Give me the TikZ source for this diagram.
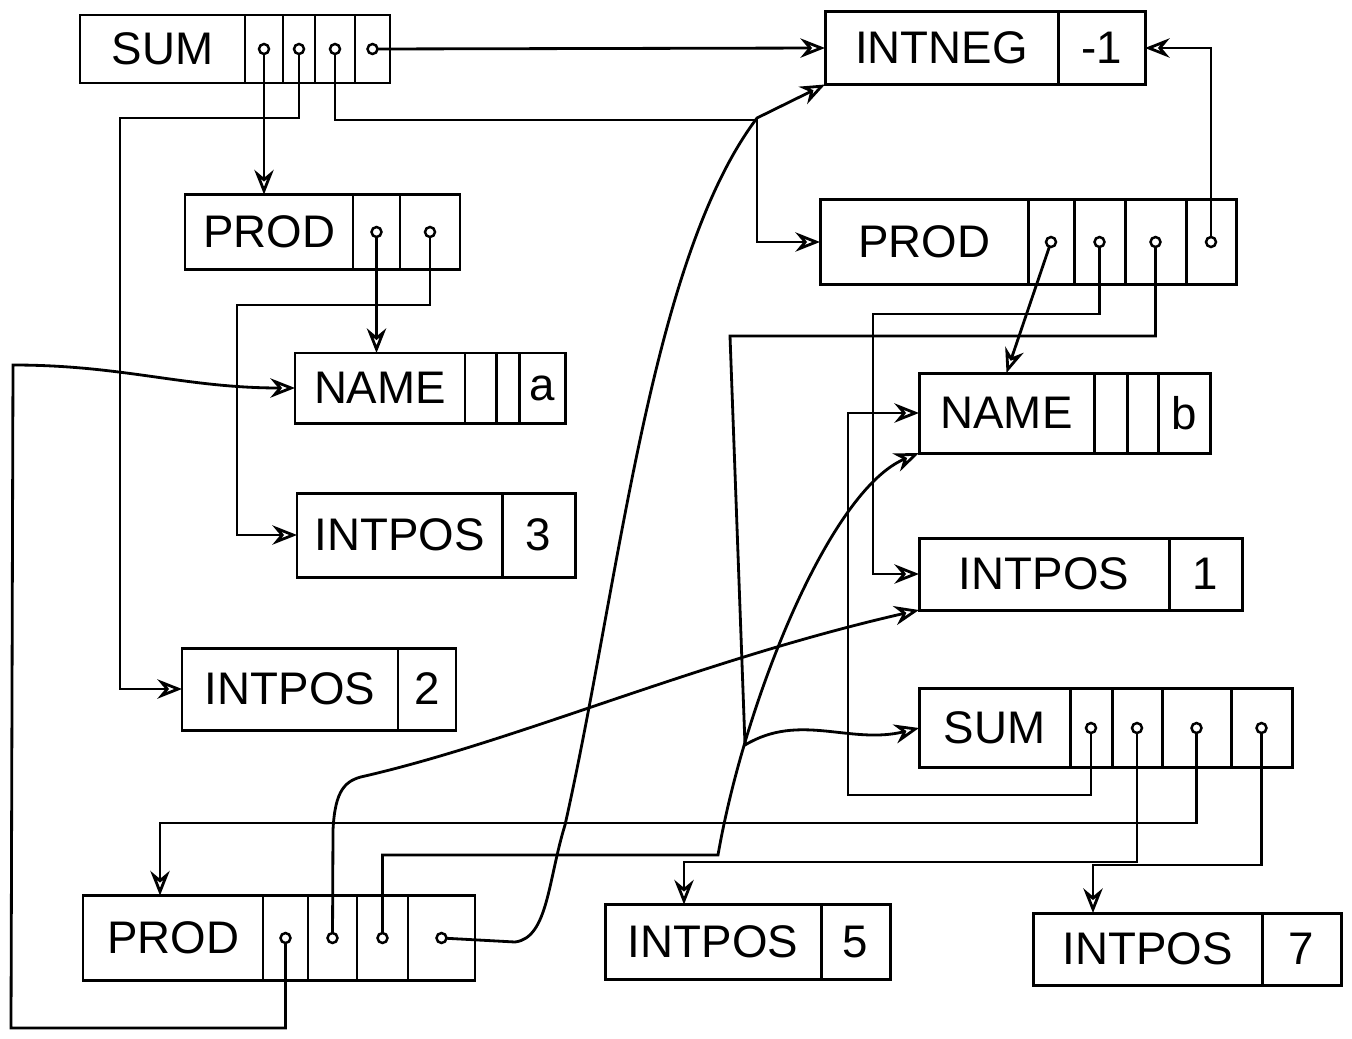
\documentclass[tikz,border=0pt]{standalone}
\usepackage{fontspec}
\setmainfont{Liberation Sans}
\usetikzlibrary{positioning,arrows.meta}
\newlength\px
\setlength\px{0.02cm}
\tikzset{
  fld/.style 2 args={draw, line width=1.7pt, minimum width=#1\px, minimum height=#2\px,
    inner sep=0pt, outer sep=0pt, font=\fontsize{26}{30}\selectfont},
  ptr/.style={line width=1.6pt, -{Stealth[open,length=14pt,width=11pt]}},
  ptrdot/.style={circle, draw, fill=white, line width=1.4pt, minimum size=10\px, inner sep=0pt}
}
\begin{document}
\begin{tikzpicture}[x=0.02cm, y=-0.02cm]
\useasboundingbox (0,0) rectangle (1352,1038);

\node[fld={165}{68}, anchor=west] (sumT) at (80,49) {SUM};
\node[fld={38}{68}, right=0pt of sumT] (sumT1) {};
\node[fld={32}{68}, right=0pt of sumT1] (sumT2) {};
\node[fld={40}{68}, right=0pt of sumT2] (sumT3) {};
\node[fld={35}{68}, right=0pt of sumT3] (sumT4) {};

\node[fld={233}{73}, anchor=west] (negL) at (825,48) {INTNEG};
\node[fld={87}{73}, right=0pt of negL] (negV) {-1};

\node[fld={168}{75}, anchor=west] (prodL) at (185,232) {PROD};
\node[fld={47}{75}, right=0pt of prodL] (prodL1) {};
\node[fld={60}{75}, right=0pt of prodL1] (prodL2) {};

\node[fld={208}{85}, anchor=west] (prodR) at (820,242) {PROD};
\node[fld={46}{85}, right=0pt of prodR] (prodR1) {};
\node[fld={51}{85}, right=0pt of prodR1] (prodR2) {};
\node[fld={61}{85}, right=0pt of prodR2] (prodR3) {};
\node[fld={50}{85}, right=0pt of prodR3] (prodR4) {};

\node[fld={170}{70}, anchor=west] (nameA) at (295,388) {NAME};
\node[fld={31}{70}, right=0pt of nameA] (nameA1) {};
\node[fld={23}{70}, right=0pt of nameA1] (nameA2) {};
\node[fld={46}{70}, right=0pt of nameA2] (nameAv) {a};

\node[fld={205}{84}, anchor=west] (posC) at (297,535) {INTPOS};
\node[fld={73}{84}, right=0pt of posC] (posCv) {3};

\node[fld={216}{82}, anchor=west] (posB) at (182,689) {INTPOS};
\node[fld={58}{82}, right=0pt of posB] (posBv) {2};

\node[fld={175}{80}, anchor=west] (nameB) at (919,413) {NAME};
\node[fld={33}{80}, right=0pt of nameB] (nameB1) {};
\node[fld={31}{80}, right=0pt of nameB1] (nameB2) {};
\node[fld={52}{80}, right=0pt of nameB2] (nameBv) {b};

\node[fld={250}{72}, anchor=west] (posA) at (919,574) {INTPOS};
\node[fld={73}{72}, right=0pt of posA] (posAv) {1};

\node[fld={151}{79}, anchor=west] (sumR) at (919,728) {SUM};
\node[fld={42}{79}, right=0pt of sumR] (sumR1) {};
\node[fld={50}{79}, right=0pt of sumR1] (sumR2) {};
\node[fld={69}{79}, right=0pt of sumR2] (sumR3) {};
\node[fld={61}{79}, right=0pt of sumR3] (sumR4) {};

\node[fld={180}{85}, anchor=west] (prodB) at (83,938) {PROD};
\node[fld={45}{85}, right=0pt of prodB] (prodB1) {};
\node[fld={49}{85}, right=0pt of prodB1] (prodB2) {};
\node[fld={51}{85}, right=0pt of prodB2] (prodB3) {};
\node[fld={67}{85}, right=0pt of prodB3] (prodB4) {};

\node[fld={216}{75}, anchor=west] (posE) at (605,942) {INTPOS};
\node[fld={69}{75}, right=0pt of posE] (posEv) {5};

\node[fld={229}{72}, anchor=west] (posG) at (1033,949) {INTPOS};
\node[fld={79}{72}, right=0pt of posG] (posGv) {7};

\draw[ptr] (sumT1.center) -- (sumT1.center |- prodL.north);
\draw[ptr] (sumT2.center) |- (120,118) |- (posB.west);
\draw[ptr] (sumT3.center) |- (757,120) |- (prodR.west);
\draw[ptr] (sumT4.center) -- (negL.west);

\draw[ptr] (prodL1.center) -- (prodL1.center |- nameA.north);
\draw[ptr] (prodL2.center) |- (237,305) |- (posC.west);

\draw[ptr] (prodR1.center) -- (nameB.north);
\draw[ptr] (prodR2.center) |- (873,314) |- (posA.west);
\draw[ptr] (prodR3.center) |- (730,336) -- (745,745) .. controls (800,712) and (850,745) .. (sumR.west);
\draw[ptr] (prodR4.center) |- (negV.east);

\draw[ptr] (sumR1.center) |- (848,795) |- (nameB.west);
\draw[ptr] (sumR2.center) |- (684,862) -- (684,862 |- posE.north);
\draw[ptr] (sumR3.center) |- (160,823) -- (160,823 |- prodB.north);
\draw[ptr] (sumR4.center) |- (1093,865) -- (1093,865 |- posG.north);

\draw[ptr] (prodB1.center) |- (11,1028) -- (13,365) to[out=0,in=180] (nameA.west);
\draw[ptr] (prodB2.center) -- (333,830) .. controls (335,790) and (345,780) .. (365,776)
  .. controls (520,740) and (700,660) .. (posA.south west);
\draw[ptr] (prodB3.center) |- (718,855) .. controls (745,700) and (830,490) .. (nameB.south west);
\draw[ptr] (prodB4.center) -- (515,942) .. controls (548,938) and (548,880) .. (565,825)
  .. controls (620,580) and (650,260) .. (757,118) -- (negL.south west);

\foreach \f in {sumT1,sumT2,sumT3,sumT4,prodL1,prodL2,prodR1,prodR2,prodR3,prodR4,
  sumR1,sumR2,sumR3,sumR4,prodB1,prodB2,prodB3,prodB4}
  \node[ptrdot] at (\f) {};
\end{tikzpicture}
\end{document}
